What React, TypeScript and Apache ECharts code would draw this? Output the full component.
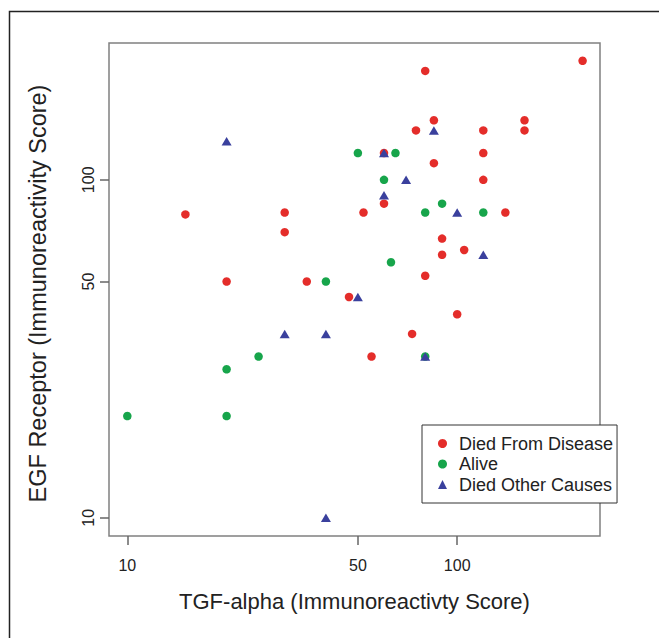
import React, { useEffect, useRef } from "react";
import * as echarts from "echarts";

// Died From Disease
const diseaseTGF = [240, 80, 85, 160, 75, 120, 160, 60, 120, 85, 120, 60, 52, 140, 15, 30, 30, 90, 90, 105, 80, 20, 35, 47, 100, 73, 55];
const diseaseEGF = [225, 210, 150, 150, 140, 140, 140, 120, 120, 112, 100, 85, 80, 80, 79, 80, 70, 67, 60, 62, 52, 50, 50, 45, 40, 35, 30];
// Alive
const aliveTGF = [50, 65, 60, 90, 80, 120, 63, 40, 80, 25, 20, 10, 20];
const aliveEGF = [120, 120, 100, 85, 80, 80, 57, 50, 30, 30, 27.5, 20, 20];
// Died Other Causes
const otherTGF = [20, 85, 70, 60, 100, 120, 50, 30, 40, 40, 60, 80];
const otherEGF = [130, 140, 100, 90, 80, 60, 45, 35, 35, 10, 120, 30];

const seriesNames = ["Died From Disease", "Alive", "Died Other Causes"];
const xTicks = [10, 50, 100];
const yTicks = [10, 50, 100];
const xRange = [8.8, 271];
const yRange = [8.83, 254];

const pairs = (xs: number[], ys: number[]) => xs.map((x, i) => [x, ys[i]]);

const FONT = "Liberation Sans, Arial, Helvetica, sans-serif";
const RED = "#e42d2a";
const GREEN = "#17a54b";
const BLUE = "#3a409d";
const BOX = "#808080";

// tick-only helper axis on a log10 value scale (same extent as the log axis)
const tickAxis = (ticks: number[], range: number[], position: string) => ({
  type: "value",
  position,
  min: Math.log10(range[0]),
  max: Math.log10(range[1]),
  axisLine: { show: false },
  axisLabel: { show: false },
  splitLine: { show: false },
  axisTick: {
    show: true,
    inside: false,
    length: 9,
    customValues: ticks.map((t) => Math.log10(t)),
    lineStyle: { color: "#666", width: 1.5 },
  },
});

export default function App() {
  const ref = useRef<HTMLDivElement>(null);
  useEffect(() => {
    if (!ref.current) return;
    const chart = echarts.init(ref.current, undefined, { renderer: "svg" });
    chart.setOption({
      animation: false,
      backgroundColor: "#ffffff",
      textStyle: { fontFamily: FONT },
      grid: {
        left: 109,
        top: 43,
        right: 59,
        bottom: 102,
        show: true,
        borderColor: BOX,
        borderWidth: 1.5,
        backgroundColor: "transparent",
        outerBoundsMode: "none",
        containLabel: false,
      },
      graphic: [
        {
          type: "rect",
          shape: { x: 9.5, y: 11.5, width: 700, height: 700 },
          style: { fill: "none", stroke: "#222", lineWidth: 1.5 },
          silent: true,
          z: 0,
        },
      ],
      xAxis: [
        {
          type: "log",
          logBase: 10,
          position: "bottom",
          min: xRange[0],
          max: xRange[1],
          name: "TGF-alpha (Immunoreactivty Score)",
          nameLocation: "middle",
          nameGap: 54,
          nameTextStyle: { fontSize: 22, color: "#222", fontFamily: FONT },
          axisLine: { show: false },
          axisTick: { show: false },
          axisLabel: {
            customValues: xTicks,
            formatter: (v: number) => String(Math.round(v)),
            fontSize: 16,
            color: "#222",
            margin: 21,
            fontFamily: FONT,
          },
          splitLine: { show: false },
          minorTick: { show: false },
        },
        tickAxis(xTicks, xRange, "bottom"),
      ],
      yAxis: [
        {
          type: "log",
          logBase: 10,
          position: "left",
          min: yRange[0],
          max: yRange[1],
          name: "EGF Receptor (Immunoreactivity Score)",
          nameLocation: "middle",
          nameGap: 59,
          nameTextStyle: {
            fontSize: 23.5,
            color: "#222",
            fontFamily: FONT,
            padding: [0, 8, 0, 0],
          },
          axisLine: { show: false },
          axisTick: { show: false },
          axisLabel: {
            customValues: yTicks,
            formatter: (v: number) => String(Math.round(v)),
            rotate: 90,
            fontSize: 16,
            color: "#222",
            margin: 13,
            fontFamily: FONT,
          },
          splitLine: { show: false },
          minorTick: { show: false },
        },
        tickAxis(yTicks, yRange, "left"),
      ],
      legend: {
        left: 422,
        top: 425,
        orient: "vertical",
        backgroundColor: "#ffffff",
        borderColor: "#333",
        borderWidth: 1,
        borderRadius: 0,
        padding: [9, 4, 9, 16],
        itemWidth: 9,
        itemHeight: 9,
        itemGap: 1.5,
        textStyle: {
          fontSize: 18,
          color: "#222",
          fontFamily: FONT,
          lineHeight: 19,
          padding: [0, 0, 0, 7],
        },
        data: [
          { name: seriesNames[0], icon: "circle" },
          { name: seriesNames[1], icon: "circle" },
          { name: seriesNames[2], icon: "triangle" },
        ],
      },
      series: [
        {
          name: seriesNames[0],
          type: "scatter",
          symbol: "circle",
          symbolSize: 8.5,
          itemStyle: { color: RED, opacity: 1 },
          data: pairs(diseaseTGF, diseaseEGF),
        },
        {
          name: seriesNames[1],
          type: "scatter",
          symbol: "circle",
          symbolSize: 8.5,
          itemStyle: { color: GREEN, opacity: 1 },
          data: pairs(aliveTGF, aliveEGF),
        },
        {
          name: seriesNames[2],
          type: "scatter",
          symbol: "triangle",
          symbolSize: [10, 8.5],
          itemStyle: { color: BLUE, opacity: 1 },
          data: pairs(otherTGF, otherEGF),
        },
      ],
    });
    return () => chart.dispose();
  }, []);
  return (
    <div
      ref={ref}
      style={{ position: "fixed", left: 0, top: 0, width: 659, height: 638 }}
    />
  );
}
